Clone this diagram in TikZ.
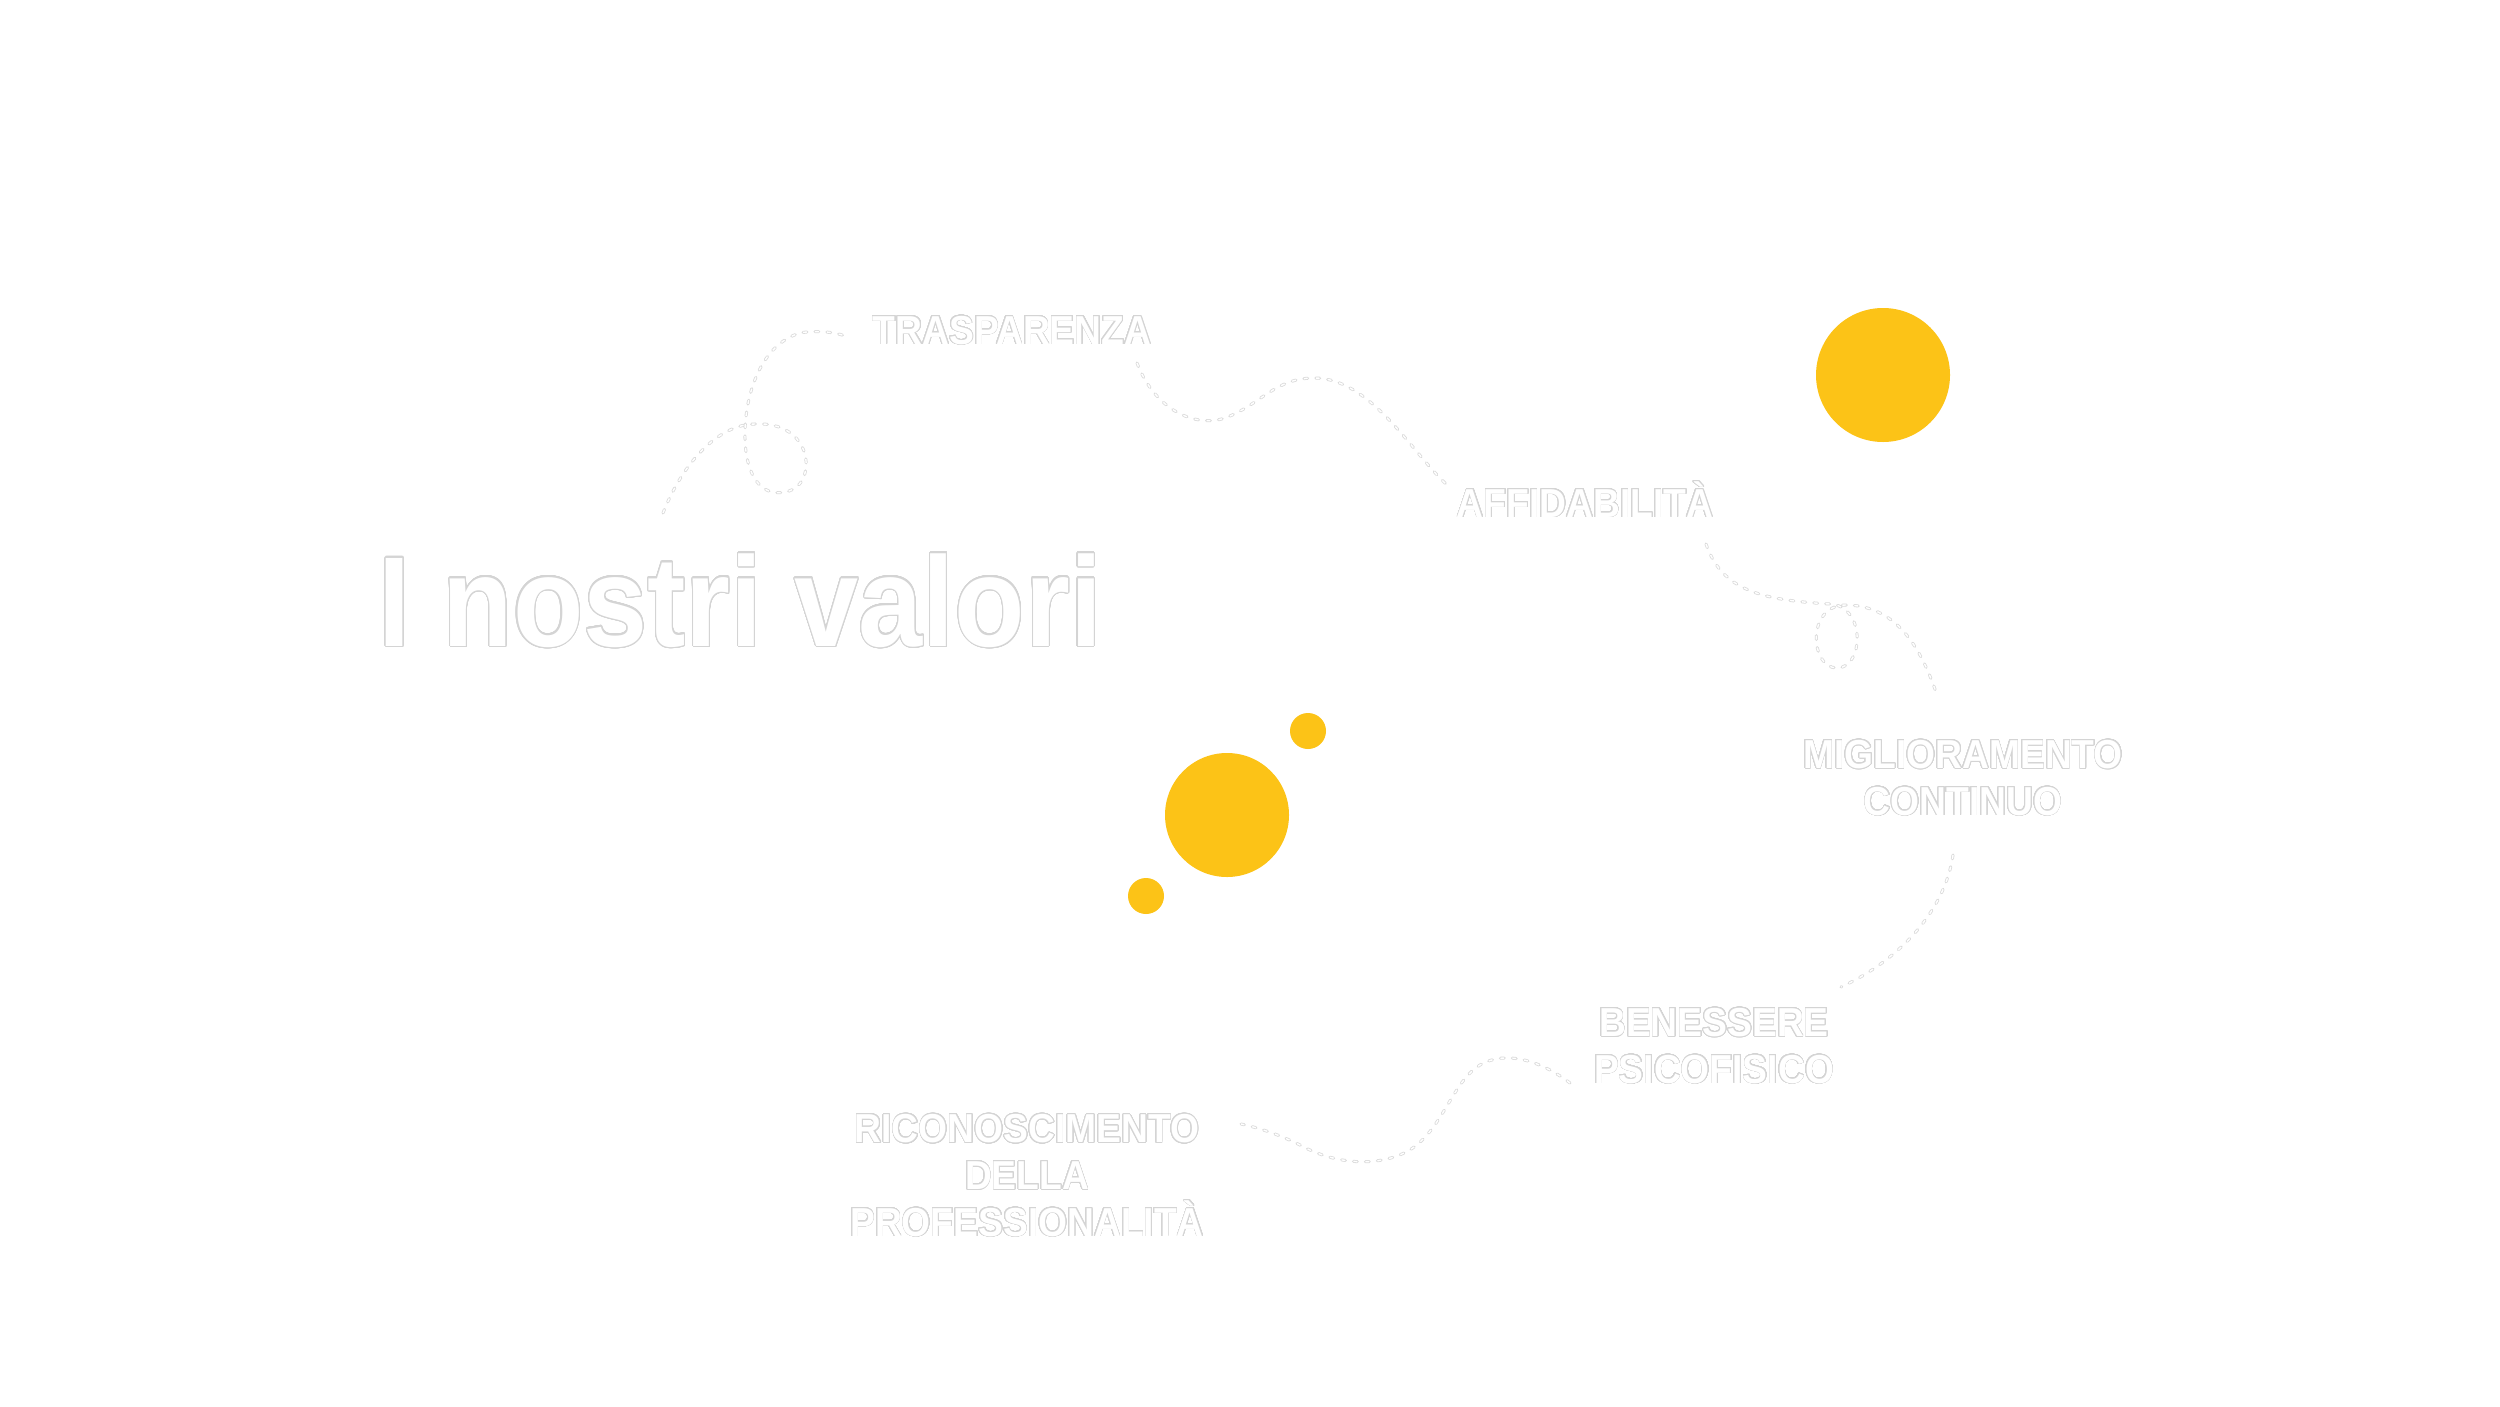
\documentclass[tikz,border=0pt]{standalone}
\usepackage{fontspec}
\setmainfont{Liberation Sans}
\usepackage{contour}
\usepackage{graphicx}
\definecolor{sun}{RGB}{252,195,23}
\definecolor{outl}{RGB}{212,212,212}
\definecolor{trailc}{RGB}{218,218,218}
\contournumber{32}
\newcommand{\olab}[1]{\scalebox{0.92}[1]{\contourlength{0.22pt}\contour{outl}{#1}}}
\newcommand{\otitle}[1]{\scalebox{0.9}[1]{\contourlength{0.35pt}\contour{outl}{#1}}}
\begin{document}
\begin{tikzpicture}[x=0.01cm,y=-0.01cm,
  lab/.style={text=white, inner sep=0pt, align=center,
    font=\bfseries\fontsize{11.5}{13.3}\selectfont},
  ttl/.style={text=white, inner sep=0pt,
    font=\bfseries\fontsize{36.4}{40}\selectfont},
  trail/.style={draw=white, line width=0.4pt, dash pattern=on 1.1pt off 2.3pt,
    preaction={draw=trailc, line width=0.85pt, line cap=round, dash pattern=on 1.1pt off 2.3pt}},
  sundot/.style={fill=sun}]
\useasboundingbox[fill=white] (0,0) rectangle (2500,1406);

% circles
\fill[sundot] (1883,375) circle (67);
\fill[sundot] (1227,815) circle (62);
\fill[sundot] (1308,731) circle (18);
\fill[sundot] (1146,896) circle (18);

% title
\node[ttl, anchor=base west] (title) at (378,646) {\otitle{I nostri valori}};

% labels (multi-line: base = baseline of last line)
\node[lab, anchor=base] (trasp) at (1012,344) {\olab{TRASPARENZA}};
\node[lab, anchor=base] (affid) at (1585,517) {\olab{AFFIDABILITÀ}};
\node[lab, anchor=base] (migl) at (1963,815) {\olab{MIGLIORAMENTO}\\\olab{CONTINUO}};
\node[lab, anchor=base] (benes) at (1714,1083) {\olab{BENESSERE}\\\olab{PSICOFISICO}};
\node[lab, anchor=base] (ricon) at (1027,1236) {\olab{RICONOSCIMENTO}\\\olab{DELLA}\\\olab{PROFESSIONALITÀ}};

% trail end points
\coordinate (t1a) at (663,513);
\coordinate (t1b) at (845,336);
\coordinate (t2a) at (1137,363);
\coordinate (t2b) at (1446,484);
\coordinate (t3a) at (1706,544);
\coordinate (t3b) at (1937,695);
\coordinate (t4a) at (1953,855);
\coordinate (t4b) at (1841,987);
\coordinate (t5a) at (1570,1083);
\coordinate (t5b) at (1241,1124);

% trails
\draw[trail] (t1a) .. controls (680,470) and (710,432) .. (745,425)
  .. controls (790,418) and (808,445) .. (806,467)
  .. controls (804,490) and (785,495) .. (772,492)
  .. controls (752,487) and (744,460) .. (745,430)
  .. controls (746,395) and (760,345) .. (800,333)
  .. controls (815,330) and (835,332) .. (t1b);
\draw[trail] (t2a) .. controls (1155,410) and (1195,428) .. (1225,418)
  .. controls (1260,405) and (1275,378) .. (1314,378)
  .. controls (1370,378) and (1410,450) .. (t2b);
\draw[trail] (t3a) .. controls (1722,590) and (1760,600) .. (1830,604)
  .. controls (1866,606) and (1864,668) .. (1837,668)
  .. controls (1810,668) and (1806,606) .. (1845,605)
  .. controls (1895,605) and (1920,645) .. (t3b);
\draw[trail] (t4a) .. controls (1945,910) and (1900,960) .. (t4b);
\draw[trail] (t5a) .. controls (1540,1060) and (1505,1050) .. (1480,1065)
  .. controls (1455,1080) and (1445,1120) .. (1419,1143)
  .. controls (1395,1165) and (1345,1170) .. (1300,1145)
  .. controls (1280,1135) and (1260,1128) .. (t5b);
\end{tikzpicture}
\end{document}
